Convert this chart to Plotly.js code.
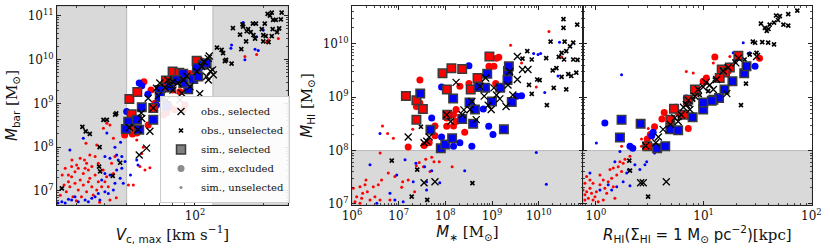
<!DOCTYPE html>
<html>
<head>
<meta charset="utf-8">
<script src="https://cdn.plot.ly/plotly-3.0.1.min.js"></script>
<style>html,body{margin:0;padding:0;background:#fff;}#chart{width:830px;height:250px;}</style>
</head>
<body>
<div id="chart"></div>
<script>
// ---------- thresholds ----------
const vCut = [50, 120];      // km/s selection window (panel 1)
const mhiCut = 1e8;          // M_HI selection limit (panels 2,3)

// ---------- Panel 1: V_c,max [km/s] vs M_bar [Msun] ----------
const p1ObsSel = [[51.4,2.8e8],[56,2.5e8],[56.8,6.6e7],[61.2,9.5e7],[62.2,1.3e9],[58.3,4.5e8],[63.3,2.3e8],[65.5,7.8e8],[67.7,2.2e9],[70,2.9e9],[73.8,2.3e9],[76,3.4e9],[80,3.1e9],[84,2.9e9],[85.9,1.2e9],[87.5,1.7e9],[89,3.4e9],[92,4.2e9],[95,2.4e9],[102,5.3e9],[105,1.65e9],[107,6.9e9],[109.6,8.9e9],[114.5,1.06e10],[115.6,1.2e10],[112.6,4.1e9],[114.5,3.4e9],[117,5.4e9],[119.6,5.8e9],[120.5,4.5e9],[75,1.2e9],[80,2.0e9],[69,1.5e9],[78,2.6e9],[58,6e8]];
const p1ObsUns = [[25.9,1.15e7],[31.9,2.9e8],[33,2.3e8],[34.4,2.0e8],[38,1.0e8],[37.8,3.6e7],[38.2,2.8e7],[44.5,5.5e8],[46.8,4.4e7],[43.4,2.2e7],[40.9,4.2e8],[45,5.9e8],[39.5,4.2e8],
  [125,1.86e10],[131,1.65e10],[133,1.4e10],[137,9.8e9],[135.5,9.2e9],[145,8.0e9],[160,1.72e10],[158,3.7e10],[162,6.3e10],[163,5.6e10],[171.6,4.9e10],[176,4.2e10],[181,3.6e10],[180,6.6e10],[185.6,6.6e10],[184,3.0e10],[168,2.6e10],[197,4.9e10],[203,6.6e10],[200,3.6e10],[205,3.4e10],[200,2.6e10],[209,1.1e11],[214,1.0e11],[218,1.17e11],[221,8.0e10],[227,8.0e10],[220,4.9e10],[230,4.2e10],[235,5.1e10],[239,8.2e10],[241,1.17e11],[218,3.4e10],[211,2.5e10],[169,4.4e10],[147,5.2e10]];
const p1SimSelR = [[51.4,1.26e9],[52.6,5.6e8],[55.7,1.8e9],[65.5,7.8e8],[74.5,3.3e9],[79.7,5.3e9],[85.3,5.0e9],[101.7,9.3e9],[74,2.3e9]];
const p1SimSelB = [[58.3,8.1e8],[50.8,3.8e8],[55.5,4.2e8],[56.8,2.5e8],[49.6,2.6e8],[75,8.7e8],[70,2.0e9],[77.6,2.4e9],[88.8,4.7e9],[93.4,2.1e9],[98.3,3.6e9],[108,7.6e9],[112.6,8.2e9],[88.8,2.9e9],[70,1.4e9],[83,3.4e9],[102,6.4e9],[103.4,4.1e9],[65.5,4.2e8]];
const p1SimExcR = [[59.6,3.1e9],[49,1.9e8],[51.8,2.9e8],[54.4,2.7e8],[55.5,2.1e8],[62.2,3.2e8],[75,6.0e8],[77.6,8.4e8],[80,2.0e9],[81.6,7.1e8],[90.4,9.2e8],[95,4.8e9],[72.5,5.5e8],[85.9,1.84e9],[105,9.8e9],[66.6,1.0e9],[88.8,7.1e8],[50,2.3e8],[53,2.0e8],[70,1.8e9],[64,2.0e9]];
const p1SimExcB = [[56.8,2.9e9],[58.3,2.5e9],[50,6.5e8],[67.7,9.2e8],[79,3.7e9],[52.5,3.5e8],[72.5,2.0e9],[105,6.4e9],[62,1.6e9],[90,3.0e9]];
const p1SimUnsR = [[26.8,3.3e7],[27.7,2.3e7],[28.6,2.1e7],[29.6,2.75e7],[30.6,3.3e7],[31.2,1.78e7],[32.2,2.5e7],[33.3,4.3e7],[33.9,3.0e7],[34.4,1.95e7],[35.1,1.25e7],[36.3,2.3e7],[37.5,1.63e7],[29.6,1.5e7],[28.1,1.25e7],[27.1,9.6e6],[30.6,1.05e7],[32.2,1.37e7],[33.3,9.6e6],[36.9,1.05e7],[38.8,1.25e7],[40.1,1.63e7],[41.5,1.25e7],[35.6,8.1e6],[31.6,7.4e6],[29.0,7.4e6],[42.9,4.3e7],[44.4,6.1e7],[43.7,2.5e7],[42.2,6.2e6],[37.5,4.3e7],[32.6,5.1e7],[30.1,3.9e7],[28.6,3.6e7],[35.1,3.6e7],[39.4,3.0e7],[40.8,2.1e7],[33.9,1.63e7],[27.7,1.63e7],[32.8,3.3e7],[26.0,2.3e7],[26.5,1.37e7],[28.7,5.1e7],[31.2,5.6e7],[34.4,6.6e7],[30,6e6],[38,5.5e6],[45,7e6],[25.5,8e6],
  [50.9,1.37e7],[53.5,1.37e7],[57.2,3.6e7],[58.2,7.2e7],[55.4,1.46e8],[59.2,1.0e8],[33.1,1.23e8],[36.9,1.12e8],[39.5,2.7e8],[40.9,3.5e8],[42.2,3.2e8],[36.3,6.1e7],[43.7,1.6e8],[60.2,3.0e7],[63.3,3.4e7],
  [138,9.8e9],[166,1.17e10],[207,2.5e10],[211,2.8e10],[233,4.9e10],[233,3.0e10],[187,1.3e10]];
const p1SimUnsB = [[40.1,6.1e7],[42.2,5.6e7],[45.2,6.6e7],[45.9,5.1e7],[47.6,3.3e7],[46.8,1.95e7],[48.3,1.5e7],[44.4,1.5e7],[43.7,1.05e7],[41.5,8.8e6],[40.1,9.6e6],[36.3,7.4e6],[38.1,6.2e6],[33.9,5.7e6],[30.6,5.7e6],[28.6,6.2e6],[25.9,5.7e6],[35.1,6.8e6],[38.8,1.78e7],[40.1,2.5e7],[37.5,8.8e6],[45.2,3.0e7],[42.2,2.3e7],[27.7,6.5e6],[29.6,7.4e6],[32.8,6.2e6],[49.2,4.7e7],[47.6,6.1e7],[40.9,2.1e8],[44.4,1.0e8],[47,1.3e8],[48.3,2.3e8],[32.2,1.6e8],[28.1,8.6e7],[55.4,5.1e7],[56.1,3.9e7],[52,2.3e7],[24.9,5.3e6],[26.8,5.3e6],
  [145,2.15e10],[144,1.8e10],[166,9.8e9],[184,1.7e10],[190,1.6e10],[187,3.3e10],[200,4.7e10],[163,7e10]];

// ---------- Panel 2: M_* [Msun] vs M_HI [Msun] ----------
const p2ObsSel = [[1.6e7,1.8e8],[4e7,1.5e8],[4.5e7,1.8e8],[1.07e8,4.7e8],[1.7e8,1.9e9],[2.3e8,4.7e8],[3.4e8,5.9e8],[3.7e8,8.3e8],[4.6e8,3.8e8],[5.5e8,1.6e9],[6.8e8,1.05e9],[8.3e8,7.1e8],[9.6e8,5.9e8],[1.25e9,1.1e9],[1.47e9,9.3e8],[2.0e9,6.7e8],[2.2e9,1.7e9],[2.8e9,1.1e9],[3.5e9,5.8e9],[3.5e9,2.15e9],[4.5e9,3.3e9],[5.9e9,3.3e9],[7.3e8,2.3e9],[2.5e8,5.8e8],[3.5e7,2.5e7],[6.0e7,2.6e7],[3.5e7,1.4e8],[1.3e8,3.5e8],[1.1e9,1.5e9],[2.4e9,3.0e9]];
const p2ObsUns = [[7.1e6,6.5e7],[2.5e7,4.4e7],[3.0e7,2.8e8],[4.1e7,1.19e7],[1.9e7,1.37e7],[3.8e8,2.45e7],[5.7e9,7.3e9],[4.5e9,5.3e9],[7.1e9,5.1e9],[1.05e10,2.1e9],[7.1e9,1.16e9],[1.5e10,7.1e8],[2.4e10,3.5e9],[3.1e10,2.4e9],[3.5e10,5.1e9],[3.4e10,2.9e10],[3.4e10,2.0e10],[1.8e10,1.1e10],[3.6e10,1.1e10],[3.9e10,7.3e9],[3.1e10,6.8e9],[2.7e10,5.7e9],[2.1e10,1.5e9],[3.9e10,1.4e9],[5.5e10,5.1e9],[6.4e10,2.9e9],[6.7e10,2.3e10],[4.3e10,2.7e9],[5.0e10,2.5e9],[5.5e10,1.06e10],[9.3e9,2.15e9],[6.2e9,1.7e9],[1.45e10,5.4e9],[2.0e10,3.2e9],[4.7e10,9e9],[6.8e10,5.0e9]];
const p2SimSelR = [[1.43e7,1.06e9],[2.4e7,8.8e8],[2.4e7,3.8e8],[3.3e7,6.0e8],[8.7e7,2.8e9],[1.08e8,1.4e9],[1.35e8,3.5e9],[2.3e8,3.4e9],[4.9e8,2.3e9],[3.5e8,1.4e9],[8.8e8,5.8e9],[1.1e8,4.7e8]];
const p2SimSelB = [[2.9e7,1.17e9],[4.8e7,2.46e8],[8.0e7,1.1e8],[1.0e8,1.3e8],[1.4e8,1.7e8],[1.47e8,9.5e8],[2.3e8,3.9e8],[3.95e8,3.2e8],[3.3e8,8.0e8],[4.3e8,5.9e8],[7.1e8,1.5e9],[7.9e8,2.75e9],[1.0e9,8.3e8],[1.5e9,1.5e9],[1.8e9,2.5e8],[2.15e9,2.1e9],[2.2e9,3.1e9],[2.3e9,3.8e9],[2.65e9,8.1e8],[5.1e8,1.55e9]];
const p2SimExcR = [[2.85e7,2.1e9],[2.4e7,6.7e8],[2.85e7,7.8e8],[1.6e7,1.17e8],[3.5e7,1.25e8],[6.0e7,1.9e8],[1.07e8,2.85e8],[1.7e8,5.9e8],[3.2e8,1.8e9],[2.6e8,2.2e8],[1.7e8,3.5e8],[1.5e8,2.9e8],[2.05e8,1.6e9],[1.1e9,3.8e9],[1.25e9,5.4e9],[8.6e8,3.8e9],[1.2e9,1.8e9],[1.07e8,4.1e8],[6.0e7,2.9e8],[1.5e8,4.7e8],[4.5e7,1.4e8],[1.4e9,5.6e9]];
const p2SimExcB = [[8.3e7,1.55e9],[5.1e7,4.1e8],[8.3e7,1.8e8],[2.05e8,1.4e8],[3.7e8,1.2e8],[8.5e8,2.85e8],[1.05e9,2e8],[3.2e8,3.9e9],[3.4e9,1.04e9],[4.3e9,1.07e9],[6.5e8,6e8],[1.5e8,1.2e8]];
const p2SimUnsR = [[1.07e6,1.97e7],[1.26e6,1.37e7],[1.61e6,1.28e7],[1.48e6,2.1e7],[1.9e6,2.3e7],[2.13e6,1.7e7],[2.43e6,1.19e7],[2.86e6,2.1e7],[3.1e6,1.37e7],[3.66e6,2.3e7],[3.98e6,1.19e7],[4.3e6,2.8e7],[1.16e6,1.1e7],[1.48e6,1.03e7],[1.69e6,1.59e7],[1.99e6,2.8e7],[6.0e6,3.8e7],[8.3e6,3.26e7],[1.22e7,2.6e7],[1.6e7,2.8e7],[2.4e7,5.2e7],[2.75e7,6.0e7],[3.8e7,6.9e7],[5.1e7,7.5e7],[5.7e7,6.2e7],[3.4e7,5.0e7],[4.7e7,4.05e7],[7.4e7,6.2e7],[1.4e8,5.0e7],[2.2e7,1.7e7],[6.5e6,1.19e7],[1.16e7,2.06e7],[4.5e6,2.9e8],[5.8e6,2.1e8],[7.7e6,1.7e8],[4.0e6,9e7],[2.0e7,2.5e8],
  [1.66e10,1.7e10],[2.5e9,9.4e9],[4.3e9,4.4e9],[8.9e9,1.55e9],[3.1e10,5.7e9]];
const p2SimUnsB = [[2.43e6,5.4e7],[3.98e6,2.1e8],[9.1e6,3.5e7],[1.37e7,6.7e7],[2.05e7,2.6e7],[3.96e7,2.6e7],[8.3e6,1.19e7],[1.25e7,1.1e7],[3.4e6,1.03e7],[6.5e6,1.59e7],[3.96e7,1.83e7],[2.6e8,4.2e7],[2.34e7,5.8e7],[3.6e7,5.0e7],[5.1e7,4.2e7],[7.6e7,2.5e7],
  [1.46e10,2.35e7],[8.9e9,9.2e7],[1.35e10,1.23e9],[9.7e9,6.3e9],[2.8e10,1.07e10],[7.8e9,6.6e9],[1.1e10,6.6e9],[2.6e10,2.5e9]];

// ---------- Panel 3: R_HI [kpc] vs M_HI [Msun] ----------
const p3ObsSel = [[2.6,2.5e7],[2.75,2.5e7],[4.5,2.6e7],[2.9,1.23e8],[3.8,1.8e8],[4.2,2.5e8],[5.4,4.1e8],[6.2,4.7e8],[6.9,7.3e8],[7.2,8.8e8],[8.3,1.04e9],[8.9,1.4e9],[9.9,1.55e9],[11.4,1.7e9],[13.2,2.15e9],[15.2,3.1e9],[16.9,3.6e9],[19.9,4.4e9],[21,5.4e9],[31,5.8e9],[16.4,1.17e9],[12.3,1.4e9],[7.45,5.9e8],[5.8,3.5e8],[4.9,3.1e8],[3.6,1.4e8],[10.5,1.9e9],[6.5,6.5e8]];
const p3ObsUns = [[2.04,6.5e7],[2.07,4.2e7],[3.05,1.37e7],
  [24.7,1.8e9],[22.2,7.1e8],[26.8,6.3e9],[35,1.08e10],[39.7,1.06e10],[37,2e10],[40,1.9e10],[41,2.3e10],[45,2.5e10],[47,3.4e10],[51,3.3e10],[55,2.3e10],[61,2.2e10],[74,4.2e10],[61,3.6e10],[34,2.4e10],[28.6,1.1e10],[30,1.05e10],[38.5,1.75e10],[45,9.8e9],[31,6.8e9],[49,2.8e10],
  [7.45,7.3e8],[9.2,1.1e9],[6,4.1e8],[12.7,2.15e9],[15.8,3.3e9],[19.5,4.6e9],[24,5.1e9],[8,9e8],[11,1.3e9],[14,2.5e9],[5.2,3.6e8],[18,4.0e9]];
const p3SimSelR = [[8.3,1.4e9],[5.3,6.1e8],[6.6,4.7e8],[4.9,3.8e8],[3.0,1.2e8],[21,6e9],[14.7,3.3e9],[17.5,3.6e9],[7.2,9e8],[15.8,2.9e9],[14.1,2.3e9]];
const p3SimSelB = [[1.73,3.8e8],[2.6,3.2e8],[1.67,1.76e8],[3.7,1.1e8],[4.4,1.2e8],[4.9,2.5e8],[5.8,2.4e8],[7.9,4.2e8],[9.9,5.9e8],[12.3,9e8],[13.9,9.7e8],[15.6,1.4e9],[18.5,2e9],[23.8,2.8e9],[25,3.8e9],[11.9,8.6e8],[9.9,8e8]];
const p3SimExcR = [[12.7,5.7e9],[10.3,2e9],[4.3,5.2e8],[4.1,3.9e8],[3.5,2.8e8],[3.2,2e8],[3.0,1.65e8],[6.9,7.6e8],[33,5.4e9],[16.9,3.1e9],[10.6,2.3e9],[6.7,4.7e8],[4.9,2.8e8],[5.8,5.2e8],[7.2,2.6e8],[9.9,2e9],[8.5,1.2e9]];
const p3SimExcB = [[1.21,3.3e8],[2.07,1.2e8],[2.2,1.1e8],[3.3,1.9e8],[30,3.8e9],[6.9,9.7e8],[3.4,2.2e8],[5.5,6.5e8]];
const p3SimUnsR = [[0.76,1.83e7],[0.79,1.48e7],[0.82,1.7e7],[0.85,1.28e7],[0.88,1.97e7],[0.91,1.59e7],[0.94,1.19e7],[0.98,1.37e7],[0.79,1.19e7],[1.01,1.7e7],[1.09,2.3e7],[1.17,2.8e7],[1.21,1.97e7],[1.3,2.6e7],[1.4,3.04e7],[1.45,2.1e7],[1.56,3.5e7],[1.61,5.0e7],[1.67,6.2e7],[1.45,4.7e7],[1.35,4.4e7],[1.79,5.8e7],[1.73,4.05e7],[1.26,1.59e7],[1.17,1.19e7],[1.05,1.1e7],[1.5,1.28e7],[1.09,3.5e7],[0.94,2.45e7],[0.88,2.8e7],[0.82,3.26e7],[0.79,2.45e7],[1.73,1.2e8],[2.65,1.2e8],[2.85,1.38e8],[2.96,1.7e8],[2.65,1.65e8],[3.06,2.6e8],[2.07,7.8e7],[1.86,6.9e7],
  [6.9,3.05e9],[8.0,2.85e9],[12.3,4.4e9],[17.5,5.8e9]];
const p3SimUnsB = [[1.01,1.38e8],[1.67,9.6e7],[1.5,6.2e7],[2.0,4.4e7],[2.3,5.4e7],[2.56,4.4e7],[2.85,5.4e7],[2.96,6.2e7],[3.5,9.0e7],[1.3,2.3e7],[1.4,1.83e7],[0.88,3.8e7],[1.93,3.8e7],[1.56,2.1e7],[1.09,1.83e7],[1.79,2.6e7],[2.07,2.2e7],
  [1.73,2.65e9],[23.3,1.05e10],[18.8,6.8e9],[26.8,6.8e9],[25.9,6.6e9]];

// ---------- axis ranges (log10) & ticks ----------
const x1Range = [1.392, 2.41], y1Range = [6.68, 11.22];
const x2Range = [6.0, 10.95], y2Range = [6.98, 10.71];
const x3Range = [-0.12, 2.003];
const sup = n => '10<sup>' + n + '</sup>';

const RED = '#ff0000', BLUE = '#0000ff';
const xs = a => a.map(d => d[0]);
const ys = a => a.map(d => d[1]);

function minorVals(lo, hi) {
  const v = [];
  for (let e = lo; e <= hi; e++) for (let k = 2; k <= 9; k++) v.push(k * Math.pow(10, e));
  return v;
}

const MK = {
  obsSel: {symbol: 'x-thin-open', color: '#000', size: 7, line: {color: '#000', width: 1.3}},
  obsUns: {symbol: 'x-thin-open', color: '#000', size: 4, line: {color: '#000', width: 1.7}}
};

const traces = [];
function addPanel(xa, ya, S) {
  const base = {type: 'scatter', mode: 'markers', xaxis: xa, yaxis: ya, showlegend: false, hoverinfo: 'skip'};
  traces.push(Object.assign({}, base, {x: xs(S.unsR), y: ys(S.unsR), marker: {color: RED, size: 3}}));
  traces.push(Object.assign({}, base, {x: xs(S.unsB), y: ys(S.unsB), marker: {color: BLUE, size: 3}}));
  traces.push(Object.assign({}, base, {x: xs(S.excR), y: ys(S.excR), marker: {color: RED, size: 7}}));
  traces.push(Object.assign({}, base, {x: xs(S.excB), y: ys(S.excB), marker: {color: BLUE, size: 7}}));
  traces.push(Object.assign({}, base, {x: xs(S.obsU), y: ys(S.obsU), marker: MK.obsUns}));
  traces.push(Object.assign({}, base, {x: xs(S.selR), y: ys(S.selR), marker: {symbol: 'square', color: RED, size: 8.5, line: {color: '#3a3a3a', width: 1.5}}}));
  traces.push(Object.assign({}, base, {x: xs(S.selB), y: ys(S.selB), marker: {symbol: 'square', color: BLUE, size: 8.5, line: {color: '#3a3a3a', width: 1.5}}}));
  traces.push(Object.assign({}, base, {x: xs(S.obsS), y: ys(S.obsS), marker: MK.obsSel}));
}
addPanel('x', 'y', {unsR: p1SimUnsR, unsB: p1SimUnsB, excR: p1SimExcR, excB: p1SimExcB, obsU: p1ObsUns, selR: p1SimSelR, selB: p1SimSelB, obsS: p1ObsSel});
addPanel('x2', 'y2', {unsR: p2SimUnsR, unsB: p2SimUnsB, excR: p2SimExcR, excB: p2SimExcB, obsU: p2ObsUns, selR: p2SimSelR, selB: p2SimSelB, obsS: p2ObsSel});
addPanel('x3', 'y3', {unsR: p3SimUnsR, unsB: p3SimUnsB, excR: p3SimExcR, excB: p3SimExcB, obsU: p3ObsUns, selR: p3SimSelR, selB: p3SimSelB, obsS: p3ObsSel});

// legend-only entries
const legendNames = ['obs., selected', 'obs., unselected', 'sim., selected', 'sim., excluded', 'sim., unselected'];
const legendMarkers = [
  MK.obsSel,
  MK.obsUns,
  {symbol: 'square', color: '#808080', size: 9, line: {color: '#3a3a3a', width: 1.5}},
  {symbol: 'circle', color: '#8c8c8c', size: 7},
  {symbol: 'circle', color: '#8c8c8c', size: 3}
];
legendNames.forEach((n, i) => traces.push({type: 'scatter', mode: 'markers', x: [null], y: [null], xaxis: 'x', yaxis: 'y', name: n, marker: legendMarkers[i], showlegend: true, hoverinfo: 'skip'}));

const SERIF = 'DejaVu Serif, Liberation Serif, serif';
const SANS = 'DejaVu Sans';
const tickFont = {family: SERIF, size: 12, color: '#111'};
const titleFont = {family: SERIF, size: 15, color: '#111'};

function axis(domain, range, tickExps, extra) {
  const lo = Math.floor(range[0]), hi = Math.ceil(range[1]);
  const tv = tickExps.map(e => Math.pow(10, e));
  const tt = tickExps.map(e => sup(e));
  return Object.assign({
    type: 'log', domain: domain, range: range, autorange: false,
    showline: true, linecolor: '#222', linewidth: 1, mirror: 'ticks',
    ticks: 'inside', ticklen: 4, tickwidth: 1, tickcolor: '#222',
    tickmode: 'array', tickvals: tv, ticktext: tt,
    minor: {tickmode: 'array', tickvals: minorVals(lo - 1, hi), ticks: 'inside', ticklen: 2, tickwidth: 0.8, tickcolor: '#222', showgrid: false},
    showgrid: false, zeroline: false, tickfont: tickFont
  }, extra || {});
}

const yDom = [0.18, 0.976];
const layout = {
  width: 830, height: 250,
  margin: {l: 0, r: 0, t: 0, b: 0},
  paper_bgcolor: '#fff', plot_bgcolor: '#fff',
  font: {family: SERIF, color: '#111'},
  xaxis: axis([57/830, 288/830], x1Range, [2], {anchor: 'y',
    title: {text: '<span style="font-family:' + SANS + '"><i>V</i><sub>c, max</sub></span> [km s<sup>−1</sup>]', font: titleFont, standoff: 2}}),
  yaxis: axis(yDom, y1Range, [7, 8, 9, 10, 11], {anchor: 'x',
    title: {text: '<span style="font-family:' + SANS + '"><i>M</i><sub>bar</sub></span> [M<sub>⊙</sub>]', font: titleFont, standoff: 6}}),
  xaxis2: axis([352/830, 583/830], x2Range, [6, 7, 8, 9, 10], {anchor: 'y2',
    title: {text: '<span style="font-family:' + SANS + '"><i>M</i><sub>∗</sub></span> [M<sub>⊙</sub>]', font: titleFont, standoff: 2}}),
  yaxis2: axis(yDom, y2Range, [7, 8, 9, 10], {anchor: 'x2',
    title: {text: '<span style="font-family:' + SANS + '"><i>M</i><sub>HI</sub></span> [M<sub>⊙</sub>]', font: titleFont, standoff: 6}}),
  xaxis3: axis([583/830, 811.7/830], x3Range, [0, 1, 2], {anchor: 'y3',
    title: {text: '<span style="font-family:' + SANS + '"><i>R</i><sub>HI</sub>(Σ<sub>HI</sub> = 1 M<sub>⊙</sub> pc<sup>−2</sup>)</span>[kpc]', font: titleFont, standoff: 2}}),
  yaxis3: axis(yDom, y2Range, [7, 8, 9, 10], {anchor: 'x3', showticklabels: false}),
  shapes: [
    {type: 'rect', xref: 'x', yref: 'y', x0: Math.pow(10, x1Range[0]), x1: vCut[0], y0: Math.pow(10, y1Range[0]), y1: Math.pow(10, y1Range[1]), fillcolor: '#d9d9d9', line: {color: '#b8b8b8', width: 1}, layer: 'below'},
    {type: 'rect', xref: 'x', yref: 'y', x0: vCut[1], x1: Math.pow(10, x1Range[1]), y0: Math.pow(10, y1Range[0]), y1: Math.pow(10, y1Range[1]), fillcolor: '#d9d9d9', line: {color: '#b8b8b8', width: 1}, layer: 'below'},
    {type: 'rect', xref: 'x2', yref: 'y2', x0: Math.pow(10, x2Range[0]), x1: Math.pow(10, x2Range[1]), y0: Math.pow(10, y2Range[0]), y1: mhiCut, fillcolor: '#d9d9d9', line: {color: '#b8b8b8', width: 1}, layer: 'below'},
    {type: 'rect', xref: 'x3', yref: 'y3', x0: Math.pow(10, x3Range[0]), x1: Math.pow(10, x3Range[1]), y0: Math.pow(10, y2Range[0]), y1: mhiCut, fillcolor: '#d9d9d9', line: {color: '#b8b8b8', width: 1}, layer: 'below'}
  ],
  showlegend: true,
  legend: {x: 160/830, xanchor: 'left', y: 1 - 203/250, yanchor: 'bottom', bgcolor: 'rgba(255,255,255,0.9)', bordercolor: '#cccccc', borderwidth: 1, font: {family: SERIF, size: 10, color: '#111'}, tracegroupgap: 0, itemwidth: 30}
};

Plotly.newPlot('chart', traces, layout, {staticPlot: true, displayModeBar: false});
</script>
</body>
</html>
